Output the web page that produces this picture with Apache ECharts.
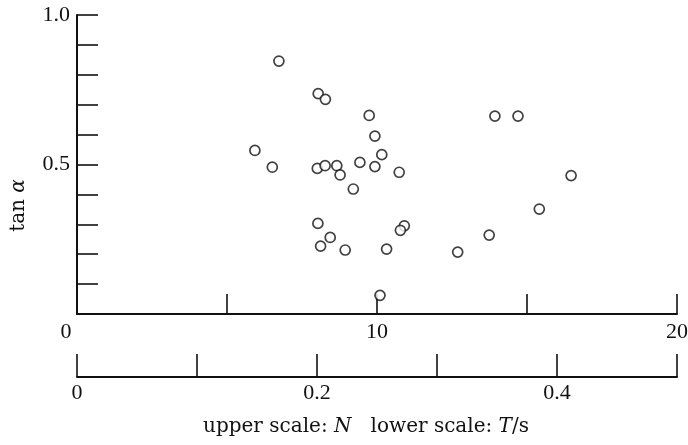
<!DOCTYPE html>
<html><head><meta charset="utf-8">
<script src="https://cdn.jsdelivr.net/npm/echarts@6/dist/echarts.min.js"></script>
<style>html,body{margin:0;padding:0;background:#fff}#c{width:688px;height:445px}</style>
</head><body><div id="c"></div>
<script>
// Upper scale N (x) and tan alpha (y)
const nValues = [6.73, 8.04, 8.28, 9.74, 9.93, 5.93, 10.16, 6.51, 8.01, 8.27, 8.66, 8.77, 9.43, 9.93, 10.74, 9.21, 8.03, 8.44, 8.12, 8.94, 10.32, 10.91, 10.78, 10.10, 13.93, 14.70, 16.47, 15.41, 13.74, 12.69];
const tanValues = [0.846, 0.737, 0.718, 0.664, 0.595, 0.547, 0.533, 0.491, 0.487, 0.496, 0.496, 0.465, 0.507, 0.493, 0.474, 0.418, 0.303, 0.256, 0.227, 0.214, 0.217, 0.295, 0.280, 0.0625, 0.662, 0.662, 0.463, 0.351, 0.264, 0.207];
const upperTickLabels = ['0', '10', '20'];
const lowerTickLabels = ['0', '0.2', '0.4'];
const yTickLabels = ['0.5', '1.0'];

const NUMFONT = 'Liberation Serif';
const TXTFONT = 'DejaVu Serif';
const chart = echarts.init(document.getElementById('c'));
const data = nValues.map((n, i) => [n, tanValues[i]]);
const fmt = (list, dec) => v => {
  const s = (Math.abs(v) < 1e-9) ? '0' : v.toFixed(dec);
  return list.indexOf(s) >= 0 ? s : '';
};
const lineStyle = { color: '#111', width: 2 };
const tickStyle = { color: '#111', width: 1.6 };
chart.setOption({
  animation: false,
  grid: { left: 77, top: 15, width: 600, height: 299, containLabel: false, outerBoundsMode: 'none' },
  xAxis: [
    {
      type: 'value', min: 0, max: 20, interval: 5, position: 'bottom',
      axisLine: { show: true, lineStyle: lineStyle },
      axisTick: { show: true, inside: true, length: 20, lineStyle: tickStyle },
      splitLine: { show: false },
      axisLabel: {
        fontFamily: NUMFONT, fontSize: 22, color: '#111', margin: 7,
        formatter: v => {
          const s = fmt(upperTickLabels, 0)(v);
          return s === '0' ? '{z|0}' : s;
        },
        rich: { z: { fontFamily: NUMFONT, fontSize: 22, color: '#111', padding: [0, 22, 0, 0] } }
      }
    },
    {
      type: 'value', min: 0, max: 0.5, interval: 0.1, position: 'bottom', offset: 63,
      axisLine: { show: true, lineStyle: lineStyle },
      axisTick: { show: true, inside: true, length: 23, lineStyle: tickStyle },
      splitLine: { show: false },
      axisLabel: { fontFamily: NUMFONT, fontSize: 22, color: '#111', margin: 5, formatter: fmt(lowerTickLabels, 1) },
      name: '{n|upper scale: }{i|N}{n|   lower scale: }{i|T}{n|/s}',
      nameLocation: 'middle', nameGap: 40,
      nameTextStyle: {
        padding: [0, 22, 0, 0],
        rich: {
          n: { fontFamily: TXTFONT, fontSize: 20, color: '#111' },
          i: { fontFamily: TXTFONT, fontSize: 20, color: '#111', fontStyle: 'italic' }
        }
      }
    }
  ],
  yAxis: {
    type: 'value', min: 0, max: 1, interval: 0.1,
    axisLine: { show: true, lineStyle: lineStyle },
    axisTick: { show: true, inside: true, length: 21, lineStyle: tickStyle },
    splitLine: { show: false },
    axisLabel: { fontFamily: NUMFONT, fontSize: 22, color: '#111', margin: 7, formatter: fmt(yTickLabels, 1) },
    name: '{n|tan }{i|α}', nameLocation: 'middle', nameGap: 48, nameRotate: 90,
    nameTextStyle: {
      padding: [0, 82, 0, 0],
      rich: {
        n: { fontFamily: TXTFONT, fontSize: 20, color: '#111' },
        i: { fontFamily: TXTFONT, fontSize: 20, color: '#111', fontStyle: 'italic' }
      }
    }
  },
  series: [{
    type: 'scatter', xAxisIndex: 0, data: data,
    symbol: 'circle', symbolSize: 10,
    itemStyle: { color: '#fff', borderColor: '#111', borderWidth: 1.7 }
  }]
});
</script></body></html>
